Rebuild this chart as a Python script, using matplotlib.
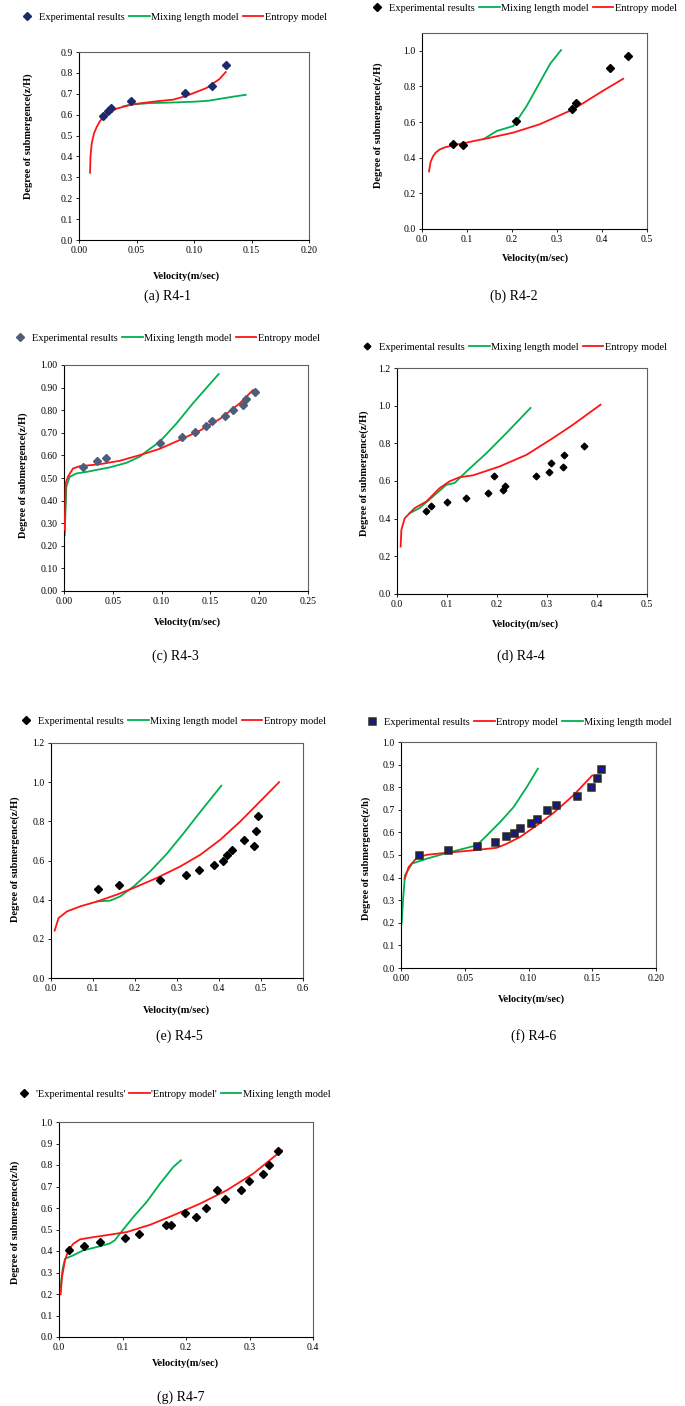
import numpy as np
from matplotlib import pyplot as plt
from matplotlib.lines import Line2D

plt.rcParams['font.family'] = ['Liberation Serif', 'DejaVu Serif']

W, H = 685, 1406
RED = '#ff1414'
GREEN = '#00b050'

# (a) R4-1
a_exp_v = [0.021, 0.025, 0.0275, 0.045, 0.0925, 0.116, 0.128]
a_exp_z = [0.595, 0.619, 0.634, 0.666, 0.705, 0.737, 0.837]
a_ent_v = [0.0096, 0.0100, 0.011, 0.0130, 0.0153, 0.018, 0.021, 0.026, 0.0327, 0.047, 0.0674, 0.082, 0.0935, 0.111, 0.122, 0.1276]
a_ent_z = [0.322, 0.40, 0.46, 0.51, 0.54, 0.567, 0.589, 0.61, 0.629, 0.650, 0.664, 0.672, 0.690, 0.728, 0.770, 0.804]
a_mix_v = [0.0385, 0.045, 0.06, 0.08, 0.10, 0.113, 0.125, 0.135, 0.145]
a_mix_z = [0.640, 0.648, 0.655, 0.658, 0.662, 0.667, 0.678, 0.687, 0.695]

# (b) R4-2
b_exp_v = [0.069, 0.091, 0.209, 0.334, 0.342, 0.417, 0.458]
b_exp_z = [0.478, 0.471, 0.605, 0.673, 0.709, 0.902, 0.970]
b_ent_v = [0.0156, 0.019, 0.0245, 0.031, 0.039, 0.052, 0.069, 0.114, 0.151, 0.203, 0.262, 0.337, 0.403, 0.447]
b_ent_z = [0.323, 0.375, 0.408, 0.430, 0.446, 0.459, 0.469, 0.493, 0.512, 0.541, 0.588, 0.673, 0.777, 0.843]
b_mix_v = [0.136, 0.166, 0.203, 0.233, 0.262, 0.285, 0.309]
b_mix_z = [0.503, 0.550, 0.578, 0.692, 0.824, 0.928, 1.004]

# (c) R4-3
c_exp_v = [0.0198, 0.0342, 0.0434, 0.098, 0.121, 0.134, 0.146, 0.152, 0.165, 0.173, 0.183, 0.186, 0.196]
c_exp_z = [0.548, 0.576, 0.588, 0.657, 0.682, 0.703, 0.731, 0.752, 0.775, 0.799, 0.823, 0.851, 0.879]
c_ent_v = [0.0007, 0.0017, 0.004, 0.0092, 0.016, 0.0365, 0.057, 0.0775, 0.098, 0.1185, 0.139, 0.1595, 0.18, 0.1936]
c_ent_z = [0.270, 0.476, 0.505, 0.542, 0.552, 0.561, 0.576, 0.601, 0.629, 0.668, 0.709, 0.761, 0.830, 0.889]
c_mix_v = [0.0007, 0.0024, 0.0058, 0.0126, 0.023, 0.0468, 0.0639, 0.0775, 0.086, 0.098, 0.115, 0.132, 0.1585]
c_mix_z = [0.247, 0.461, 0.505, 0.520, 0.527, 0.547, 0.567, 0.594, 0.623, 0.660, 0.740, 0.830, 0.960]

# (d) R4-4
d_exp_v = [0.057, 0.067, 0.100, 0.137, 0.181, 0.193, 0.211, 0.216, 0.277, 0.303, 0.308, 0.332, 0.333, 0.373]
d_exp_z = [0.442, 0.465, 0.486, 0.512, 0.535, 0.628, 0.553, 0.576, 0.624, 0.647, 0.697, 0.672, 0.738, 0.785]
d_ent_v = [0.0073, 0.0087, 0.0153, 0.0287, 0.0353, 0.0587, 0.0853, 0.105, 0.125, 0.152, 0.205, 0.259, 0.312, 0.352, 0.407]
d_ent_z = [0.252, 0.340, 0.402, 0.438, 0.456, 0.491, 0.562, 0.598, 0.620, 0.630, 0.677, 0.739, 0.828, 0.899, 1.005]
d_mix_v = [0.0253, 0.045, 0.072, 0.0987, 0.115, 0.139, 0.179, 0.219, 0.267]
d_mix_z = [0.429, 0.456, 0.518, 0.580, 0.589, 0.651, 0.748, 0.855, 0.988]

# (e) R4-5
e_exp_v = [0.111, 0.161, 0.259, 0.321, 0.353, 0.389, 0.409, 0.420, 0.431, 0.459, 0.483, 0.488, 0.494]
e_exp_z = [0.453, 0.477, 0.500, 0.526, 0.551, 0.575, 0.599, 0.626, 0.652, 0.703, 0.676, 0.751, 0.827]
e_ent_v = [0.0087, 0.018, 0.038, 0.07, 0.11, 0.157, 0.197, 0.252, 0.308, 0.356, 0.403, 0.451, 0.498, 0.543]
e_ent_z = [0.242, 0.306, 0.340, 0.366, 0.391, 0.426, 0.460, 0.511, 0.570, 0.630, 0.706, 0.800, 0.902, 1.000]
e_mix_v = [0.11, 0.141, 0.165, 0.197, 0.2365, 0.276, 0.316, 0.356, 0.4056]
e_mix_z = [0.391, 0.395, 0.417, 0.468, 0.545, 0.635, 0.740, 0.850, 0.982]

# (f) R4-6
f_exp_v = [0.0138, 0.0368, 0.0595, 0.0736, 0.0822, 0.0883, 0.0937, 0.1018, 0.1065, 0.1146, 0.1217, 0.1384, 0.1488, 0.154, 0.1572]
f_exp_z = [0.499, 0.521, 0.541, 0.558, 0.583, 0.599, 0.619, 0.642, 0.659, 0.699, 0.721, 0.760, 0.802, 0.841, 0.881]
f_ent_v = [0.0029, 0.006, 0.0125, 0.0204, 0.036, 0.057, 0.0752, 0.083, 0.0935, 0.1065, 0.1196, 0.1352, 0.150]
f_ent_z = [0.395, 0.447, 0.488, 0.501, 0.510, 0.521, 0.532, 0.550, 0.580, 0.631, 0.686, 0.764, 0.852]
f_mix_v = [0.0005, 0.0016, 0.0031, 0.0086, 0.0204, 0.036, 0.0595, 0.0674, 0.0778, 0.0883, 0.0987, 0.1073]
f_mix_z = [0.196, 0.300, 0.410, 0.462, 0.484, 0.509, 0.543, 0.587, 0.646, 0.712, 0.801, 0.882]

# (g) R4-7
g_exp_v = [0.0163, 0.040, 0.0641, 0.104, 0.1256, 0.168, 0.177, 0.199, 0.215, 0.232, 0.249, 0.262, 0.286, 0.299, 0.321, 0.331, 0.345]
g_exp_z = [0.403, 0.422, 0.442, 0.462, 0.479, 0.519, 0.521, 0.577, 0.560, 0.600, 0.682, 0.643, 0.682, 0.724, 0.760, 0.800, 0.865]
g_ent_v = [0.0026, 0.0047, 0.0095, 0.0147, 0.0226, 0.033, 0.0489, 0.08, 0.1067, 0.1435, 0.18, 0.222, 0.264, 0.306, 0.351]
g_ent_z = [0.198, 0.279, 0.357, 0.403, 0.434, 0.454, 0.462, 0.476, 0.488, 0.522, 0.566, 0.620, 0.682, 0.760, 0.868]
g_mix_v = [0.0026, 0.0058, 0.0095, 0.0226, 0.038, 0.059, 0.08, 0.088, 0.096, 0.117, 0.138, 0.159, 0.18, 0.192]
g_mix_z = [0.233, 0.318, 0.364, 0.380, 0.403, 0.418, 0.435, 0.450, 0.481, 0.558, 0.628, 0.713, 0.791, 0.822]

EXP = 'Experimental results'
MIX = 'Mixing length model'
ENT = 'Entropy model'

panels = [
    dict(exp=(a_exp_v, a_exp_z), ent=(a_ent_v, a_ent_z), mix=(a_mix_v, a_mix_z),
         box=(79, 309, 52, 240), xlim=0.20, xstep=0.05, xfmt='%.2f', ylim=0.9, ytop=0.9, ystep=0.1, yfmt='%.1f',
         mk=dict(marker='D', ms=3.6, color='#1b2a6b'), order=['exp', 'mix', 'ent'], labels=[EXP, MIX, ENT],
         leg=(172, 17), xlab=(186, 276), ylab=(28, 136), yl='Degree of submergence(z/H)',
         cap='(a) R4-1', capxy=(168, 296)),
    dict(exp=(b_exp_v, b_exp_z), ent=(b_ent_v, b_ent_z), mix=(b_mix_v, b_mix_z),
         box=(422, 647, 33, 229), xlim=0.5, xstep=0.1, xfmt='%.1f', ylim=1.1, ytop=1.0, ystep=0.2, yfmt='%.1f',
         mk=dict(marker='D', ms=4.2, color='black'), order=['exp', 'mix', 'ent'], labels=[EXP, MIX, ENT],
         leg=(522, 8), xlab=(535, 258), ylab=(378, 125), yl='Degree of submergence(z/H)',
         cap='(b) R4-2', capxy=(514, 296)),
    dict(exp=(c_exp_v, c_exp_z), ent=(c_ent_v, c_ent_z), mix=(c_mix_v, c_mix_z),
         box=(64, 308, 365, 591), xlim=0.25, xstep=0.05, xfmt='%.2f', ylim=1.0, ytop=1.0, ystep=0.1, yfmt='%.2f',
         mk=dict(marker='D', ms=3.8, color='#4f5d7a'), order=['exp', 'mix', 'ent'], labels=[EXP, MIX, ENT],
         leg=(165, 338), xlab=(187, 622), ylab=(23, 475), yl='Degree of submergence(z/H)',
         cap='(c) R4-3', capxy=(175, 656)),
    dict(exp=(d_exp_v, d_exp_z), ent=(d_ent_v, d_ent_z), mix=(d_mix_v, d_mix_z),
         box=(397, 647, 368, 594), xlim=0.5, xstep=0.1, xfmt='%.1f', ylim=1.2, ytop=1.2, ystep=0.2, yfmt='%.1f',
         mk=dict(marker='D', ms=3.4, color='black'), order=['exp', 'mix', 'ent'], labels=[EXP, MIX, ENT],
         leg=(512, 347), xlab=(525, 624), ylab=(364, 473), yl='Degree of submergence(z/H)',
         cap='(d) R4-4', capxy=(521, 656)),
    dict(exp=(e_exp_v, e_exp_z), ent=(e_ent_v, e_ent_z), mix=(e_mix_v, e_mix_z),
         box=(51, 303, 743, 978), xlim=0.6, xstep=0.1, xfmt='%.1f', ylim=1.2, ytop=1.2, ystep=0.2, yfmt='%.1f',
         mk=dict(marker='D', ms=3.6, color='black'), order=['exp', 'mix', 'ent'], labels=[EXP, MIX, ENT],
         leg=(171, 721), xlab=(176, 1010), ylab=(15, 859), yl='Degree of submergence(z/H)',
         cap='(e) R4-5', capxy=(179, 1036)),
    dict(exp=(f_exp_v, f_exp_z), ent=(f_ent_v, f_ent_z), mix=(f_mix_v, f_mix_z),
         box=(401, 656, 742, 968), xlim=0.20, xstep=0.05, xfmt='%.2f', ylim=1.0, ytop=1.0, ystep=0.1, yfmt='%.1f',
         mk=dict(marker='s', ms=4.0, markerfacecolor='#1010d0', markeredgecolor='#262626', markeredgewidth=1.8),
         order=['exp', 'ent', 'mix'], labels=[EXP, ENT, MIX],
         leg=(517, 722), xlab=(531, 999), ylab=(366, 858), yl='Degree of submergence(z/h)',
         cap='(f) R4-6', capxy=(534, 1036)),
    dict(exp=(g_exp_v, g_exp_z), ent=(g_ent_v, g_ent_z), mix=(g_mix_v, g_mix_z),
         box=(59, 313, 1122, 1337), xlim=0.4, xstep=0.1, xfmt='%.1f', ylim=1.0, ytop=1.0, ystep=0.1, yfmt='%.1f',
         mk=dict(marker='D', ms=4.0, color='black'), order=['exp', 'ent', 'mix'],
         labels=["'Experimental results'", "'Entropy model'", MIX],
         leg=(172, 1094), xlab=(185, 1363), ylab=(15, 1222), yl='Degree of submergence(z/h)',
         cap='(g) R4-7', capxy=(181, 1397)),
]


def fx(x):
    return x / W


def fy(y):
    return 1 - y / H


fig = plt.figure(figsize=(W / 100, H / 100), dpi=100)

for p in panels:
    l, r, t, b = p['box']
    ax = fig.add_axes([fx(l), fy(b), (r - l) / W, (b - t) / H])

    ax.plot(*p['mix'], color=GREEN, lw=1.3, zorder=2)
    ax.plot(*p['ent'], color=RED, lw=1.3, zorder=3)
    ax.plot(*p['exp'], ls='none', zorder=4, **p['mk'])

    ax.set_xlim(0, p['xlim'])
    ax.set_ylim(0, p['ylim'])
    ax.set_xticks(np.arange(0, p['xlim'] + 1e-9, p['xstep']))
    ax.set_yticks(np.arange(0, p['ytop'] + 1e-9, p['ystep']))
    ax.xaxis.set_major_formatter(plt.FormatStrFormatter(p['xfmt']))
    ax.yaxis.set_major_formatter(plt.FormatStrFormatter(p['yfmt']))
    ax.tick_params(direction='out', length=2.5, width=0.6, labelsize=7, pad=2)
    for s in ['left', 'bottom']:
        ax.spines[s].set_linewidth(0.8)
        ax.spines[s].set_color('black')
    for s in ['top', 'right']:
        ax.spines[s].set_linewidth(0.8)
        ax.spines[s].set_color('#606060')

    # legend above the panel, excel style
    handles = []
    for key in p['order']:
        if key == 'exp':
            handles.append(Line2D([], [], ls='none', **p['mk']))
        elif key == 'mix':
            handles.append(Line2D([], [], color=GREEN, lw=1.3))
        else:
            handles.append(Line2D([], [], color=RED, lw=1.3))
    fig.legend(handles, p['labels'], loc='center', ncol=3, frameon=False,
               bbox_to_anchor=(fx(p['leg'][0]), fy(p['leg'][1])),
               fontsize=7.5, handlelength=2.0, handletextpad=0.15, columnspacing=0.35,
               borderpad=0, borderaxespad=0)

    fig.text(fx(p['xlab'][0]), fy(p['xlab'][1]), 'Velocity(m/sec)', fontsize=7.5,
             fontweight='bold', ha='center', va='center')
    fig.text(fx(p['ylab'][0]), fy(p['ylab'][1]), p['yl'], fontsize=7.5,
             fontweight='bold', ha='center', va='center', rotation=90)
    fig.text(fx(p['capxy'][0]), fy(p['capxy'][1]), p['cap'], fontsize=10,
             ha='center', va='center')

fig.savefig('out.png', dpi=100)
